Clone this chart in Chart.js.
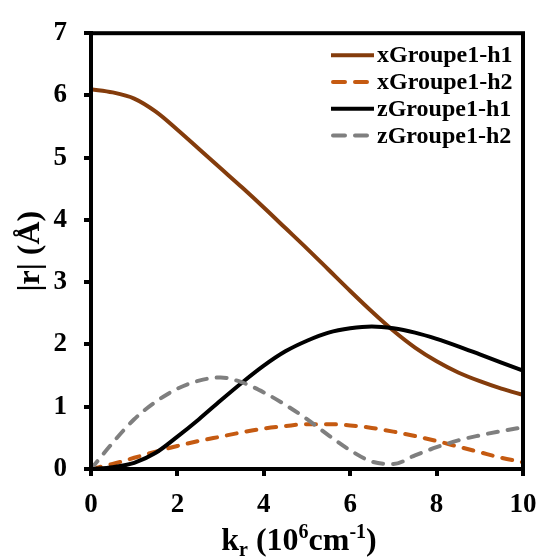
<!DOCTYPE html>
<html>
<head>
<meta charset="utf-8">
<script src="https://cdn.jsdelivr.net/npm/chart.js@4.4.1/dist/chart.umd.min.js"></script>
<style>
	body { margin:0; background:#ffffff; }
	#chartWrap { width:539px; height:557px; }
</style>
</head>
<body>
<div id="chartWrap"><canvas id="krChart" width="539" height="557"></canvas></div>
<script>
	// chart data
	var krList   = [0, 0.5, 1, 1.5, 2, 2.5, 3, 3.5, 4, 4.5, 5, 5.5, 6, 6.5, 7, 7.5, 8, 8.5, 9, 9.5, 10];
	var xH1List  = [6.10, 6.05, 5.95, 5.74, 5.45, 5.14, 4.83, 4.52, 4.20, 3.87, 3.54, 3.20, 2.86, 2.53, 2.22, 1.95, 1.73, 1.55, 1.41, 1.29, 1.19];
	var xH2List  = [0.00, 0.08, 0.18, 0.28, 0.37, 0.45, 0.52, 0.59, 0.65, 0.69, 0.72, 0.72, 0.70, 0.66, 0.60, 0.53, 0.45, 0.36, 0.27, 0.18, 0.11];
	var zH1List  = [0.00, 0.03, 0.10, 0.26, 0.52, 0.80, 1.10, 1.39, 1.66, 1.89, 2.06, 2.19, 2.26, 2.29, 2.26, 2.19, 2.09, 1.97, 1.84, 1.71, 1.58];
	var zH2List  = [0.00, 0.42, 0.80, 1.08, 1.29, 1.42, 1.47, 1.39, 1.23, 1.03, 0.80, 0.54, 0.30, 0.12, 0.08, 0.22, 0.35, 0.46, 0.54, 0.61, 0.67];
	var seriesNames = ["xGroupe1-h1", "xGroupe1-h2", "zGroupe1-h1", "zGroupe1-h2"];
	var xTickList = [0, 2, 4, 6, 8, 10];
	var yTickList = [0, 1, 2, 3, 4, 5, 6, 7];

	var FONT = "'Liberation Serif', 'Times New Roman', serif";

	/**
	 * build {x,y} points for one series
	 */
	function toPoints(values){
		var pts = [];
		for(var i=0; i<krList.length; i++){
			pts.push({x: krList[i], y: values[i]});
		}
		return pts;
	}

	/**
	 * legend drawn inside the plot area, top right
	 */
	function drawLegend(chart){
		var ctx = chart.ctx;
		var area = chart.chartArea;
		var x0 = area.right - 192;
		ctx.save();
		ctx.font = "bold 24px " + FONT;
		ctx.textAlign = "left";
		ctx.textBaseline = "middle";
		chart.data.datasets.forEach(function(ds, i){
			var y = area.top + 22 + i * 26.8;
			ctx.strokeStyle = ds.borderColor;
			ctx.lineWidth = 4;
			if(ds.borderDash.length){
				ctx.lineCap = "round";
				ctx.setLineDash([12, 10]);
				ctx.beginPath();
				ctx.moveTo(x0 + 2, y);
				ctx.lineTo(x0 + 38, y);
				ctx.stroke();
			}else{
				ctx.lineCap = "butt";
				ctx.setLineDash([]);
				ctx.beginPath();
				ctx.moveTo(x0, y);
				ctx.lineTo(x0 + 43, y);
				ctx.stroke();
			}
			ctx.setLineDash([]);
			ctx.fillStyle = "#000000";
			ctx.fillText(ds.label, x0 + 46, y + 1);
		});
		ctx.restore();
	}

	/**
	 * x axis title with sub/superscripts
	 */
	function drawXTitle(chart){
		var ctx = chart.ctx;
		var area = chart.chartArea;
		var parts = [
			{t: "k",   s: 32, dy: 0},
			{t: "r",   s: 20, dy: 6},
			{t: " (10", s: 32, dy: 0},
			{t: "6",   s: 20, dy: -12},
			{t: "cm",  s: 32, dy: 0},
			{t: "-1",  s: 20, dy: -12},
			{t: ")",   s: 32, dy: 0}
		];
		ctx.save();
		ctx.fillStyle = "#000000";
		ctx.textAlign = "left";
		ctx.textBaseline = "alphabetic";
		var total = 0;
		parts.forEach(function(p){
			ctx.font = "bold " + p.s + "px " + FONT;
			p.w = ctx.measureText(p.t).width;
			total += p.w;
		});
		var x = (area.left + area.right) / 2 - 8 - total / 2;
		var base = 550;
		parts.forEach(function(p){
			ctx.font = "bold " + p.s + "px " + FONT;
			ctx.fillText(p.t, x, base + p.dy);
			x += p.w;
		});
		ctx.restore();
	}

	var colorList = ["#843C0C", "#C55A11", "#000000", "#7F7F7F"];
	var dashList  = [[], [10, 10], [], [10, 10]];
	var valueList = [xH1List, xH2List, zH1List, zH2List];

	var datasets = [];
	for(var i=0; i<seriesNames.length; i++){
		datasets.push({
			label: seriesNames[i],
			data: toPoints(valueList[i]),
			borderColor: colorList[i],
			backgroundColor: colorList[i],
			borderWidth: 4,
			borderDash: dashList[i],
			borderCapStyle: dashList[i].length ? "round" : "butt",
			pointRadius: 0,
			fill: false,
			cubicInterpolationMode: "monotone",
			order: seriesNames.length - i
		});
	}

	var ctx = document.getElementById("krChart").getContext("2d");
	new Chart(ctx, {
		type: "line",
		data: {datasets: datasets},
		options: {
			responsive: false,
			animation: false,
			layout: {padding: {top: 24, right: 16, left: 0, bottom: 0}},
			plugins: {
				legend: {display: false},
				tooltip: {enabled: false}
			},
			scales: {
				x: {
					type: "linear",
					min: 0,
					max: 10,
					afterBuildTicks: function(scale){
						scale.ticks = xTickList.map(function(v){ return {value: v}; });
					},
					afterFit: function(scale){
						scale.height = 88;
						scale.paddingLeft = 0;
						scale.paddingRight = 0;
					},
					grid: {display: true, drawOnChartArea: false, drawTicks: true, tickLength: 7, lineWidth: 4, color: "#000000"},
					border: {display: true, width: 4, color: "#000000"},
					ticks: {
						color: "#000000",
						padding: 13,
						maxRotation: 0,
						font: {family: FONT, size: 27, weight: "bold"}
					}
				},
				y: {
					type: "linear",
					min: 0,
					max: 7,
					afterBuildTicks: function(scale){
						scale.ticks = yTickList.map(function(v){ return {value: v}; });
					},
					afterFit: function(scale){ scale.width = 91; },
					grid: {display: true, drawOnChartArea: false, drawTicks: true, tickLength: 7, lineWidth: 4, color: "#000000"},
					border: {display: true, width: 4, color: "#000000"},
					ticks: {
						color: "#000000",
						padding: 17,
						font: {family: FONT, size: 27, weight: "bold"}
					},
					title: {
						display: true,
						text: "|r| (Å)",
						color: "#000000",
						padding: {top: 12, bottom: 0},
						font: {family: FONT, size: 32, weight: "bold"}
					}
				}
			}
		},
		plugins: [
			{
				id: "plot_frame_legend",
				afterDatasetsDraw: function(chart){
					var c = chart.ctx;
					var a = chart.chartArea;
					c.save();
					c.strokeStyle = "#000000";
					c.lineWidth = 4;
					c.strokeRect(a.left, a.top, a.right - a.left, a.bottom - a.top);
					c.restore();
				},
				afterDraw: function(chart){
					drawLegend(chart);
					drawXTitle(chart);
				}
			}
		]
	});
</script>
</body>
</html>
